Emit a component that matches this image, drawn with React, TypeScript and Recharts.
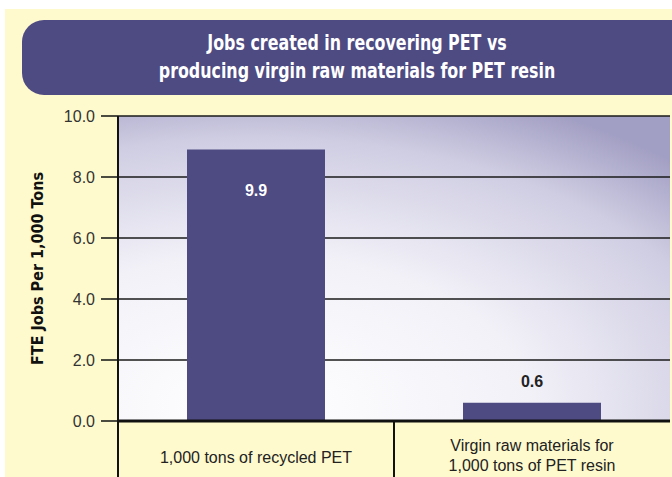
import { BarChart, Bar, XAxis, YAxis, CartesianGrid, LabelList } from 'recharts'

const categories = ['1,000 tons of recycled PET', 'Virgin raw materials for\n1,000 tons of PET resin']
const barHeights = [8.9, 0.6]
const labelTexts = ['9.9', '0.6']
const yTicks = [0, 2, 4, 6, 8, 10]

const W = 672
const H = 477
const margin = { top: 116, right: 2, left: 0, bottom: 0 }
const yAxisWidth = 118
const xAxisHeight = 56
const purple = '#4e4a82'
const cream = '#fffacd'

const data = categories.map((name, i) => ({ name, value: barHeights[i], label: labelTexts[i] }))

const bandHalf = (W - margin.left - margin.right - yAxisWidth) / categories.length / 2
const axisY = H - margin.bottom - xAxisHeight
const plotMidY = (margin.top + axisY) / 2

function CategoryTick({ x, payload, index }: any) {
  const lines = String(payload.value).split('\n')
  return (
    <g>
      {index === 0 && <line x1={x - bandHalf} x2={x - bandHalf} y1={axisY} y2={H} stroke="#111" strokeWidth={2} />}
      {index < categories.length - 1 && (
        <line x1={x + bandHalf} x2={x + bandHalf} y1={axisY} y2={H} stroke="#111" strokeWidth={2} />
      )}
      <text
        x={x}
        y={lines.length === 1 ? axisY + 42 : axisY + 30}
        textAnchor="middle"
        fill="#222"
        fontSize={16}
        fontFamily="'Liberation Sans', Arial, sans-serif"
      >
        {lines.map((l, i) => (
          <tspan key={i} x={x} dy={i === 0 ? 0 : 20}>
            {l}
          </tspan>
        ))}
      </text>
    </g>
  )
}

function ValueLabel({ x, y, width, index }: any) {
  const inside = index === 0
  return (
    <text
      x={x + width / 2}
      y={inside ? y + 46 : y - 16}
      textAnchor="middle"
      fill={inside ? '#fff' : '#222'}
      fontSize={16}
      fontWeight="bold"
      fontFamily="'Liberation Sans', Arial, sans-serif"
    >
      {labelTexts[index]}
    </text>
  )
}

export default function App() {
  return (
    <div style={{ position: 'fixed', left: 0, top: 0, width: W, height: H, background: '#fff', overflow: 'hidden' }}>
      <div style={{ position: 'absolute', left: 5, top: 9, right: 0, bottom: 0, background: cream }} />
      <div
        style={{
          position: 'absolute',
          left: 22,
          top: 20,
          width: 680,
          height: 75,
          borderRadius: 22,
          background: purple,
        }}
      />
      <div
        style={{
          position: 'absolute',
          left: 357 - 300,
          top: 29,
          width: 600,
          color: '#fff',
          fontFamily: "'DejaVu Sans Condensed', 'DejaVu Sans', sans-serif",
          fontWeight: 'bold',
          fontSize: 21,
          lineHeight: '28px',
          textAlign: 'center',
          transform: 'scaleX(0.84)',
        }}
      >
        Jobs created in recovering PET vs
        <br />
        producing virgin raw materials for PET resin
      </div>
      <div style={{ position: 'absolute', left: 0, top: 0 }}>
        <BarChart width={W} height={H} data={data} margin={margin} barCategoryGap="25%">
          <defs>
            <radialGradient id="plotBg" cx="0.25" cy="0.95" r="1.1">
              <stop offset="0" stopColor="#ffffff" />
              <stop offset="0.45" stopColor="#f2f1f8" />
              <stop offset="0.8" stopColor="#cfcde2" />
              <stop offset="1" stopColor="#a29fc4" />
            </radialGradient>
          </defs>
          <CartesianGrid vertical={false} stroke="#1a1a1a" strokeWidth={1.5} fill="url(#plotBg)" fillOpacity={1} />
          <XAxis
            dataKey="name"
            height={xAxisHeight}
            axisLine={{ stroke: '#111', strokeWidth: 3 }}
            tickLine={false}
            tick={<CategoryTick />}
            interval={0}
          />
          <YAxis
            width={yAxisWidth}
            domain={[0, 10]}
            ticks={yTicks}
            tickFormatter={(v: number) => v.toFixed(1)}
            tickSize={17}
            tickMargin={6}
            axisLine={{ stroke: '#111', strokeWidth: 2 }}
            tickLine={{ stroke: '#111', strokeWidth: 1.5 }}
            tick={{ fill: '#333', fontSize: 16, fontFamily: "'Liberation Sans', Arial, sans-serif" }}
            label={{
              content: () => (
                <text
                  x={37}
                  y={plotMidY}
                  transform={`rotate(-90 37 ${plotMidY})`}
                  textAnchor="middle"
                  dominantBaseline="central"
                  fill="#111"
                  fontSize={16}
                  fontWeight="bold"
                  fontFamily="'DejaVu Sans Condensed', 'Liberation Sans', sans-serif"
                >
                  FTE Jobs Per 1,000 Tons
                </text>
              ),
            }}
          />
          <Bar dataKey="value" fill={purple} isAnimationActive={false}>
            <LabelList dataKey="label" content={<ValueLabel />} />
          </Bar>
        </BarChart>
      </div>
    </div>
  )
}
